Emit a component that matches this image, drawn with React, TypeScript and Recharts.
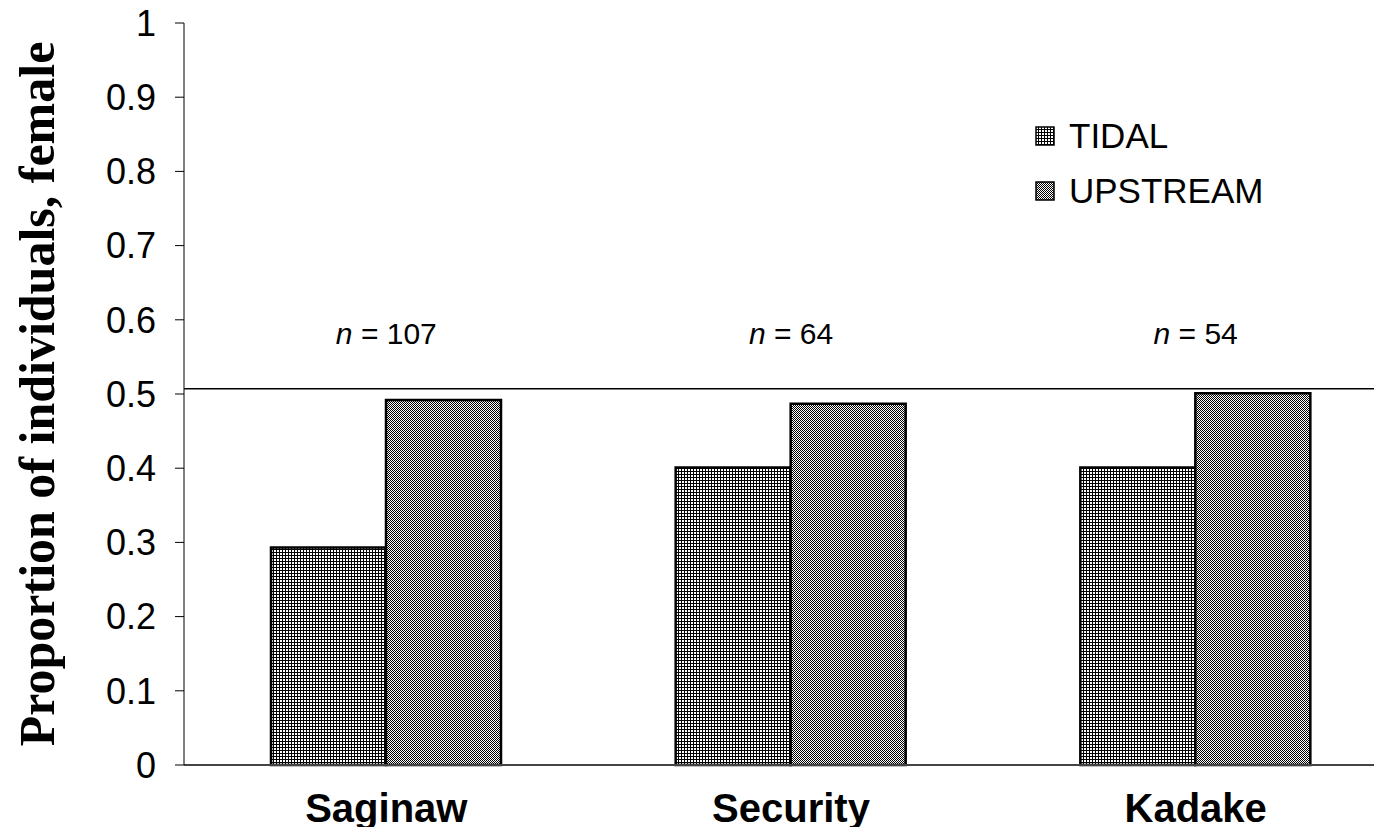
import React from "react"
import {
  BarChart,
  Bar,
  XAxis,
  YAxis,
  ReferenceLine,
  ReferenceDot,
  Legend,
  Label,
} from "recharts"

const sites = ["Saginaw", "Security", "Kadake"]
const tidal = [0.293, 0.401, 0.401]
const upstream = [0.492, 0.487, 0.501]
const sampleSizes = [107, 64, 54]
const yTicks = [0, 0.1, 0.2, 0.3, 0.4, 0.5, 0.6, 0.7, 0.8, 0.9, 1]
const evenSplit = 0.507

const data = sites.map((site, i) => ({
  site,
  tidal: tidal[i],
  upstream: upstream[i],
}))

const arial = "Arial, 'Liberation Sans', sans-serif"
const times = "'Times New Roman', 'Liberation Serif', serif"

const fills: Record<string, string> = {
  TIDAL: "url(#tidalFill)",
  UPSTREAM: "url(#upstreamFill)",
}

const YTitle = (props: any) => {
  const { viewBox } = props
  const cx = viewBox.x + 37
  const cy = viewBox.y + viewBox.height / 2
  return (
    <text
      x={cx}
      y={cy}
      transform={`rotate(-90 ${cx} ${cy})`}
      textAnchor="middle"
      dominantBaseline="central"
      fontFamily={times}
      fontWeight="bold"
      fontSize={50}
      fill="#000"
    >
      Proportion of individuals, female
    </text>
  )
}

const SampleLabel = (props: any) => {
  const { viewBox, n } = props
  const cx = viewBox.x + viewBox.width / 2
  const cy = viewBox.y + viewBox.height / 2
  return (
    <text
      x={cx}
      y={cy}
      textAnchor="middle"
      dominantBaseline="central"
      fontFamily={arial}
      fontSize={30}
      fill="#000"
    >
      <tspan fontStyle="italic">n</tspan>
      {` = ${n}`}
    </text>
  )
}

const LegendBox = (props: any) => {
  const { payload } = props
  return (
    <div style={{ fontFamily: arial, fontSize: 35, color: "#000" }}>
      {(payload || []).map((entry: any) => (
        <div
          key={entry.value}
          style={{ display: "flex", alignItems: "center", height: 55 }}
        >
          <svg width={22} height={20} style={{ marginRight: 12 }}>
            <rect
              x={1}
              y={1}
              width={18}
              height={18}
              fill={fills[entry.value]}
              stroke="#000"
              strokeWidth={1.5}
            />
          </svg>
          <span>{entry.value}</span>
        </div>
      ))}
    </div>
  )
}

export default function App() {
  return (
    <div
      style={{
        margin: -8,
        width: 1382,
        height: 835,
        overflow: "hidden",
        position: "relative",
        background: "#fff",
      }}
    >
      <BarChart
        width={1420}
        height={835}
        data={data}
        margin={{ top: 23, right: 22, left: 0, bottom: 40 }}
        barCategoryGap="21.5%"
        barGap={0}
      >
        <defs>
          <pattern
            id="tidalFill"
            width={3}
            height={3}
            patternUnits="userSpaceOnUse"
          >
            <rect width={3} height={3} fill="#fff" />
            <rect width={3} height={1} fill="#000" />
            <rect width={1} height={3} fill="#000" />
          </pattern>
          <pattern
            id="upstreamFill"
            width={2}
            height={2}
            patternUnits="userSpaceOnUse"
          >
            <rect width={2} height={2} fill="#fff" />
            <rect x={0} y={0} width={1} height={1} fill="#000" />
            <rect x={1} y={1} width={1} height={1} fill="#000" />
          </pattern>
        </defs>
        <XAxis
          dataKey="site"
          height={30}
          axisLine={{ stroke: "#444", strokeWidth: 2 }}
          tickLine={false}
          tickSize={0}
          tickMargin={29}
          tick={{
            fill: "#000",
            fontFamily: arial,
            fontWeight: "bold",
            fontSize: 40,
          }}
        />
        <YAxis
          width={184}
          domain={[0, 1]}
          ticks={yTicks}
          interval={0}
          axisLine={{ stroke: "#000", strokeWidth: 1 }}
          tickLine={{ stroke: "#000", strokeWidth: 1 }}
          tickSize={9}
          tickMargin={19}
          tick={{ fill: "#000", fontFamily: arial, fontSize: 36 }}
        >
          <Label content={<YTitle />} />
        </YAxis>
        <Legend
          layout="vertical"
          verticalAlign="middle"
          align="center"
          content={<LegendBox />}
          wrapperStyle={{ position: "absolute", left: 1035, top: 108, width: 300 }}
        />
        <ReferenceLine y={evenSplit} stroke="#000" strokeWidth={1.5} />
        {sites.map((site, i) => (
          <ReferenceDot
            key={site}
            x={site}
            y={0.582}
            r={1}
            fill="none"
            stroke="none"
            label={<SampleLabel n={sampleSizes[i]} />}
          />
        ))}
        <Bar
          dataKey="tidal"
          name="TIDAL"
          fill="url(#tidalFill)"
          stroke="#000"
          strokeWidth={2.5}
          isAnimationActive={false}
        />
        <Bar
          dataKey="upstream"
          name="UPSTREAM"
          fill="url(#upstreamFill)"
          stroke="#000"
          strokeWidth={2.5}
          isAnimationActive={false}
        />
      </BarChart>
    </div>
  )
}
